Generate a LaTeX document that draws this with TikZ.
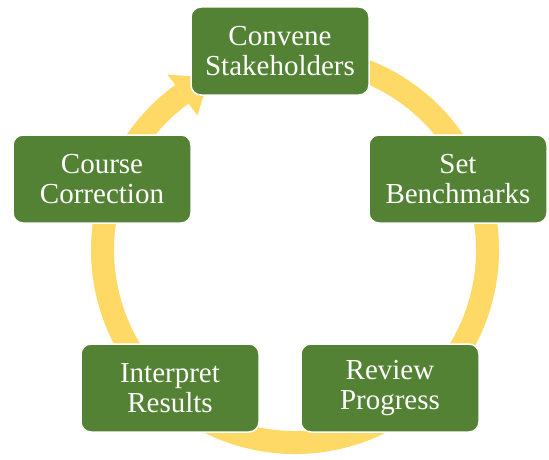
\documentclass[tikz,border=0pt]{standalone}
\usepackage{fontspec}
\setmainfont{Liberation Serif}
\usepackage{tikz}

\definecolor{stagegreen}{HTML}{548235}
\definecolor{ringyellow}{HTML}{FFD966}

\begin{document}
\begin{tikzpicture}[x=1pt,y=1pt,
  stage/.style={draw=white, line width=1.5pt, fill=stagegreen, rounded corners=10pt,
    minimum width=178pt, minimum height=88pt, align=center, text=white,
    font=\fontsize{29}{30}\selectfont, inner sep=0pt}]
\useasboundingbox (0,0) rectangle (549,-460);

% the ring behind the stages
\begin{scope}[shift={(295,-250)}]
\draw[ringyellow, line width=23pt] (105:192.5) arc[start angle=105, end angle=-234, radius=192.5];
\fill[ringyellow] (126:166) -- (126:217) -- (116.5:192.5) -- cycle;
\end{scope}

\node[stage] (conv) at (280,-51) {Convene\\Stakeholders};
\node[stage] (bench) at (458,-179) {Set\\Benchmarks};
\node[stage] (review) at (390,-388) {Review\\Progress};
\node[stage] (interp) at (170,-388) {Interpret\\Results};
\node[stage] (correct) at (102,-179) {Course\\Correction};
\end{tikzpicture}
\end{document}
